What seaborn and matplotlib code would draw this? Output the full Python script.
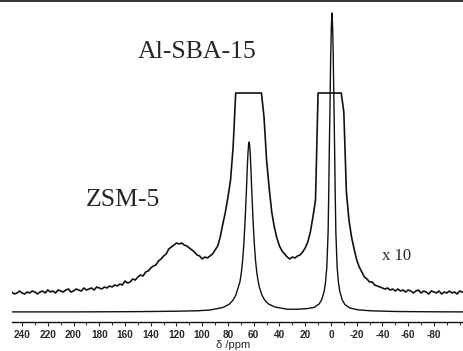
import numpy as np
import pandas as pd
import matplotlib
matplotlib.use("Agg")
import matplotlib.pyplot as plt
from matplotlib.lines import Line2D
from matplotlib.ticker import MultipleLocator, FixedLocator, FuncFormatter
import seaborn as sns

# ---------------- data ----------------
# upper trace (x10 vertical expansion), read every 2 ppm from 248 down to -104
upper_values = [
    20, 18, 19, 21, 19, 18, 20, 19, 21, 20, 18, 20, 21, 19, 22,          # 248..220
    20, 21, 19, 22, 21, 20, 22, 23, 20, 21, 23, 22, 21, 24, 22,          # 218..190
    23, 24, 22, 25, 24, 23, 25, 24, 26, 25, 27, 26, 28, 27, 31,          # 188..160
    29, 30, 33, 32, 35, 37, 36, 40, 41, 44, 46, 47, 51, 53, 56,          # 158..130
    58, 63, 65, 67, 69, 68, 69, 67, 66, 64, 62, 60, 57, 56, 53,          # 128..100
    55, 54, 56, 58, 62, 66, 75, 88, 100, 115, 132, 165,                  # 98..76
    219, 219, 219, 219, 219, 219, 219, 219, 219, 219, 219,               # 74..54
    195, 152, 124, 100, 85, 74, 66, 61, 58, 55, 53, 55, 54, 56, 57,
    60, 64, 70, 80, 95, 112,                                             # 52..12
    219, 219, 219, 219, 219, 219, 219, 219, 219, 219,                    # 10..-8
    200, 120, 92, 75, 63, 52, 45, 40, 35, 33, 30, 30, 27, 26, 25, 24,
    23, 24, 22, 23, 21, 23, 21, 22, 20, 22, 21, 19, 21, 22, 19, 21,
    20, 18, 21, 20, 19, 21, 18, 20, 19, 21, 19, 20, 18, 21, 20, 21,      # -10..-104
]
upper_ppm = np.arange(248, 248 - 2 * len(upper_values), -2)

# lower trace (true scale)
lower_ppm = [248, 200, 160, 140, 120, 104, 94, 84, 79, 76, 74, 72, 70.6, 69.6,
             68.6, 67.6, 66.6, 65.6, 65.1, 64.6, 64.1, 63.6, 63.1, 62.6, 62.1,
             61.6, 60.6, 59.6, 58.6, 57.6, 56.6, 55.6, 53.6, 51.6, 48.6, 43.6,
             33.6, 26, 19.2, 13.2, 9.2, 7.2, 5.2, 4.2, 3.2, 2.2, 1.7, 1.2, 0.7,
             0.2, -0.3, -0.8, -1.3, -1.8, -2.3, -2.8, -3.3, -3.8, -4.8, -5.8,
             -6.8, -8.8, -10.8, -14.8, -20.8, -30.8, -50, -80, -104]
lower_values = [0.1, 0.1, 0.3, 0.5, 0.8, 1.2, 2.0, 4.5, 7.8, 12, 16.7, 24.7, 30.9,
                39.5, 51.5, 69.5, 94, 124, 141, 155.7, 166, 170, 166, 155.7, 141,
                124, 94, 69.5, 51.5, 39.5, 31, 24.8, 16.9, 12.2, 8.1, 5.0,
                2.7, 2.8, 3.3, 4.5, 8, 12.3, 21, 30, 45, 80, 120, 168, 210,
                255, 285, 299, 285, 255, 210, 168, 120, 80, 45, 30,
                21, 12, 7.5, 4, 2.2, 1.2, 0.5, 0.2, 0.1]

tick_values = [240, 220, 200, 180, 160, 140, 120, 100, 80, 60, 40, 20, 0,
               -20, -40, -60, -80]

labels = ["Al-SBA-15", "ZSM-5", "x 10"]

# ---------------- plot ----------------
sns.set_style("white")
plt.rcParams["axes.unicode_minus"] = False
plt.rcParams["font.family"] = ["Liberation Sans", "DejaVu Sans"]

W, H = 463, 351
fig = plt.figure(figsize=(W / 100, H / 100), dpi=100)
ax = fig.add_axes([12 / W, 29 / H, 451 / W, 322 / H])

df_up = pd.DataFrame({"ppm": upper_ppm, "I": upper_values})
df_lo = pd.DataFrame({"ppm": lower_ppm, "I": lower_values})

sns.lineplot(data=df_up, x="ppm", y="I", ax=ax, sort=False, estimator=None,
             color="#111111", linewidth=1.2)
sns.lineplot(data=df_lo, x="ppm", y="I", ax=ax, sort=False, estimator=None,
             color="#111111", linewidth=1.0)

ax.set_xlim(247.8, -102.6)
ax.set_ylim(-10, 312)

for s in ["top", "left", "right"]:
    ax.spines[s].set_visible(False)
ax.spines["bottom"].set_linewidth(1.0)
ax.spines["bottom"].set_color("#111111")

ax.xaxis.set_major_locator(FixedLocator(tick_values))
ax.xaxis.set_minor_locator(MultipleLocator(10))
ax.xaxis.set_major_formatter(FuncFormatter(lambda v, p: "%d" % v))
ax.tick_params(axis="x", which="major", direction="out", length=3, width=0.8,
               pad=2.5, labelsize=7.2, bottom=True)
ax.tick_params(axis="x", which="minor", direction="out", length=2, width=0.7,
               bottom=True)
for t in ax.get_xticklabels():
    t.set_fontweight("bold")
ax.set_yticks([])
ax.set_xlabel("")
ax.set_ylabel("")

serif = ["Liberation Serif", "DejaVu Serif"]
ax.text(104, 260, labels[0], ha="center", va="center", fontsize=18.5,
        family=serif)
ax.text(162, 112, labels[1], ha="center", va="center", fontsize=18.5,
        family=serif)
ax.text(-51, 56, labels[2], ha="center", va="center", fontsize=12,
        family=serif)

fig.text(233 / W, 1 - 350.5 / H, "δ /ppm", ha="center", va="bottom", fontsize=8)

fig.add_artist(Line2D([0, 1], [1 - 0.7 / H, 1 - 0.7 / H], color="#111111",
                      linewidth=1.2, transform=fig.transFigure))

fig.savefig("out.png", dpi=100)
